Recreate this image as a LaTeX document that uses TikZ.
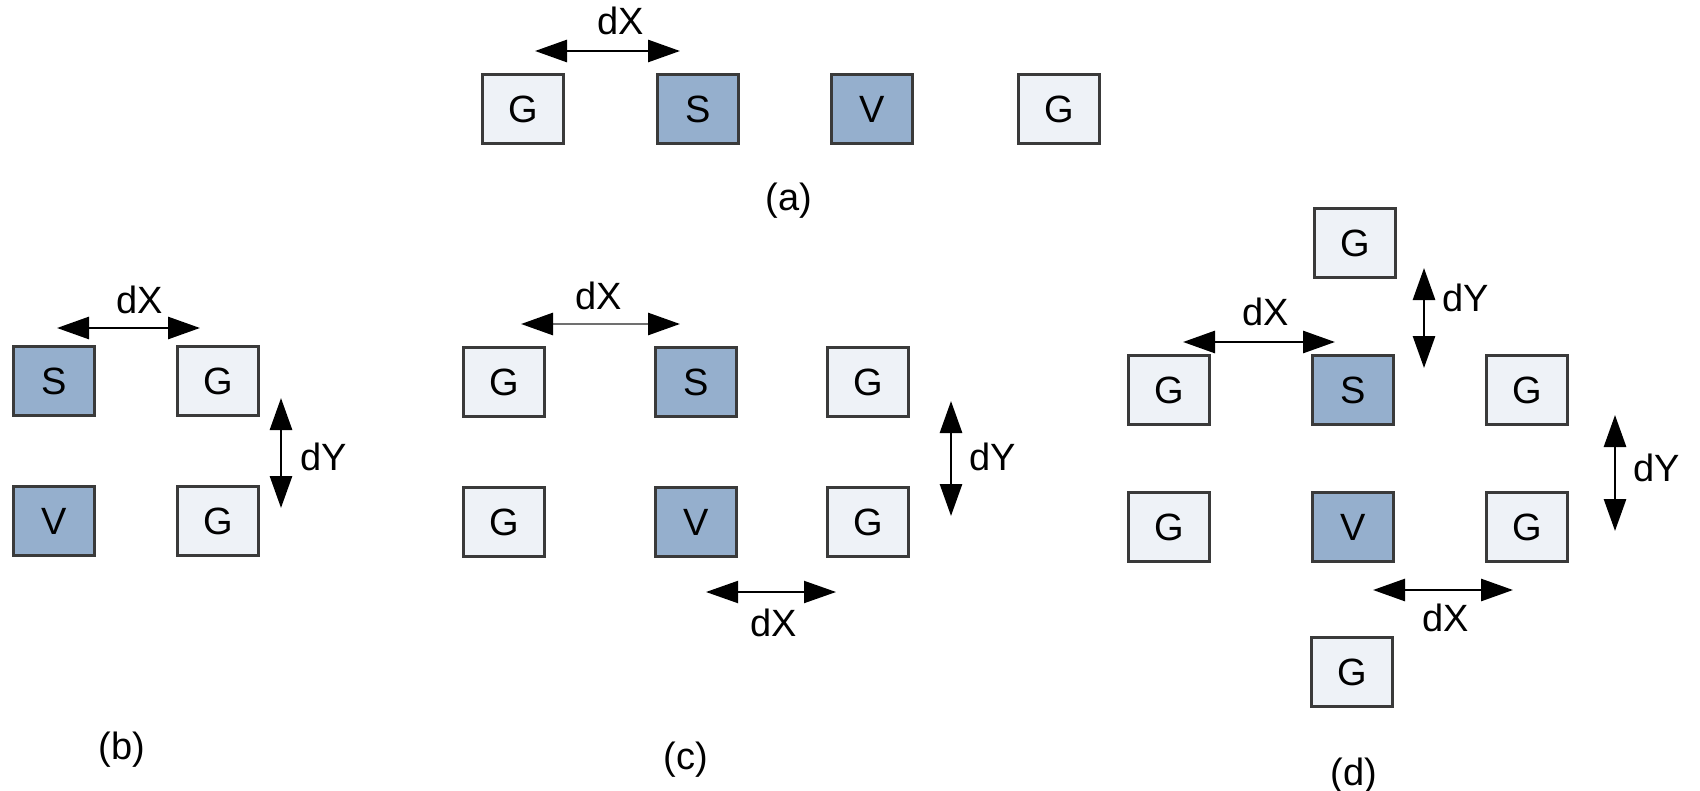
\documentclass[tikz,border=0pt]{standalone}
\usepackage{fontspec}
\setmainfont{Liberation Sans}
\usetikzlibrary{arrows.meta}

\begin{document}
\begin{tikzpicture}[x=0.5pt,y=-0.5pt,
  pad/.style={draw=custcol_3a_3a_3a, line width=1.5pt, minimum width=40.5pt, minimum height=34.5pt, inner sep=0pt, font=\fontsize{19pt}{19pt}\selectfont},
  padG/.style={pad, fill=custcol_ee_f2_f7},
  padS/.style={pad, fill=custcol_95_af_cd},
  dimline/.style={line width=1.4pt, {Triangle[length=16pt,width=11pt,color=black]}-{Triangle[length=16pt,width=11pt,color=black]}},
  dimtext/.style={inner sep=0pt, font=\fontsize{19pt}{19pt}\selectfont},
  caption/.style={inner sep=0pt, font=\fontsize{19pt}{19pt}\selectfont}]
\useasboundingbox (0,0) rectangle (1700,791);
\definecolor{custcol_3a_3a_3a}{RGB}{58, 58, 58}
\definecolor{custcol_ee_f2_f7}{RGB}{238, 242, 247}
\definecolor{custcol_95_af_cd}{RGB}{149, 175, 205}
\definecolor{custcol_70_70_70}{RGB}{112, 112, 112}
% (a) one row
\node[padG] (aG1) at (523,109) {G};
\node[padS] (aS) at (698,109) {S};
\node[padS] (aV) at (872,109) {V};
\node[padG] (aG2) at (1059,109) {G};
\coordinate (aX1) at (535,51);
\coordinate (aX2) at (680,51);
\draw[dimline] (aX1) -- (aX2);
\node[dimtext] (aXt) at (621,21) {dX};
\node[caption] (acap) at (789,201) {(a)};
% (b) two by two
\node[padS] (bS) at (54,381) {S};
\node[padG] (bG1) at (218,381) {G};
\node[padS] (bV) at (54,521) {V};
\node[padG] (bG2) at (218,521) {G};
\coordinate (bX1) at (57,328);
\coordinate (bX2) at (200,328);
\draw[dimline] (bX1) -- (bX2);
\node[dimtext] (bXt) at (140,300) {dX};
\coordinate (bY1) at (281,398);
\coordinate (bY2) at (281,508);
\draw[dimline] (bY1) -- (bY2);
\node[dimtext] (bYt) at (324,457) {dY};
\node[caption] (bcap) at (122,750) {(b)};
% (c) two by three
\node[padG] (cG1) at (504,382) {G};
\node[padS] (cS) at (696,382) {S};
\node[padG] (cG2) at (868,382) {G};
\node[padG] (cG3) at (504,522) {G};
\node[padS] (cV) at (696,522) {V};
\node[padG] (cG4) at (868,522) {G};
\coordinate (cX1) at (521,324);
\coordinate (cX2) at (680,324);
\draw[dimline, draw=custcol_70_70_70] (cX1) -- (cX2);
\node[dimtext] (cXt) at (599,296) {dX};
\coordinate (cY1) at (951,401);
\coordinate (cY2) at (951,516);
\draw[dimline] (cY1) -- (cY2);
\node[dimtext] (cYt) at (993,457) {dY};
\coordinate (cX3) at (706,592);
\coordinate (cX4) at (836,592);
\draw[dimline, line width=1pt] (cX3) -- (cX4);
\node[dimtext] (cX2t) at (774,623) {dX};
\node[caption] (ccap) at (686,760) {(c)};
% (d) cross
\node[padG] (dGt) at (1355,243) {G};
\node[padG] (dG1) at (1169,390) {G};
\node[padS] (dS) at (1353,390) {S};
\node[padG] (dG2) at (1527,390) {G};
\node[padG] (dG3) at (1169,527) {G};
\node[padS] (dV) at (1353,527) {V};
\node[padG] (dG4) at (1527,527) {G};
\node[padG] (dGb) at (1352,672) {G};
\coordinate (dX1) at (1183,342);
\coordinate (dX2) at (1335,342);
\draw[dimline] (dX1) -- (dX2);
\node[dimtext] (dXt) at (1266,312) {dX};
\coordinate (dY1) at (1424,268);
\coordinate (dY2) at (1424,368);
\draw[dimline] (dY1) -- (dY2);
\node[dimtext] (dYt) at (1466,298) {dY};
\coordinate (dY3) at (1615,415);
\coordinate (dY4) at (1615,531);
\draw[dimline] (dY3) -- (dY4);
\node[dimtext] (dY2t) at (1657,468) {dY};
\coordinate (dX3) at (1373,590);
\coordinate (dX4) at (1513,590);
\draw[dimline] (dX3) -- (dX4);
\node[dimtext] (dX2t) at (1446,618) {dX};
\node[caption] (dcap) at (1354,776) {(d)};
\end{tikzpicture}
\end{document}
